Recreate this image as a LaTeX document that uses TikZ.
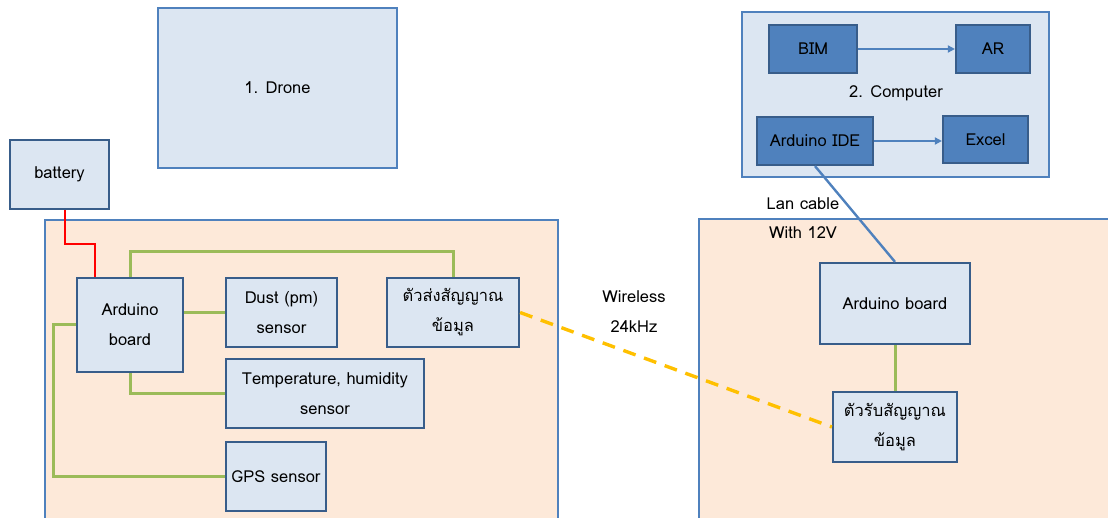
\documentclass[tikz,border=0pt]{standalone}
\usepackage{fontspec}
\setmainfont{Loma}[Script=Thai]
\usetikzlibrary{arrows.meta}
\definecolor{lbfill}{HTML}{DCE6F2}
\definecolor{navy}{HTML}{385D8A}
\definecolor{midblue}{HTML}{4F81BD}
\definecolor{peach}{HTML}{FDE9D9}
\definecolor{grn}{HTML}{9BBB59}
\definecolor{ylw}{HTML}{FFC000}
\tikzset{
  txt/.style={font=\fontsize{16.5}{30}\selectfont, align=center, inner sep=0pt},
  lbox/.style={txt, draw=navy, line width=2.2pt, fill=lbfill, minimum width=#1},
  pane/.style={draw=midblue, line width=1.3pt, fill=lbfill, inner sep=0pt},
  bgpane/.style={draw=midblue, line width=1.3pt, fill=peach, inner sep=0pt},
  dbox/.style={txt, draw=navy, line width=2.2pt, fill=midblue, minimum width=#1},
  gline/.style={draw=grn, line width=3pt},
  rline/.style={draw=red, line width=2.8pt},
  yline/.style={draw=ylw, line width=3.4pt, dash pattern=on 13pt off 9pt},
  bline/.style={draw=midblue, line width=2.4pt},
  barrow/.style={draw=midblue, line width=2pt, -{Triangle[length=7pt,width=7pt]}},
}
\begin{document}
\begin{tikzpicture}[x=1pt,y=-1pt]
\useasboundingbox (0,0) rectangle (1108,518);
% backgrounds
\node[bgpane, minimum width=513pt, minimum height=310pt] (leftbg) at (301.5,375) {};
\node[bgpane, minimum width=420pt, minimum height=310pt] (rightbg) at (909,374) {};
\node[pane, minimum width=239pt, minimum height=160pt, txt] (drone) at (277.5,88) {1. Drone};
\node[pane, minimum width=307pt, minimum height=165pt] (computer) at (895.5,94.5) {};
\node[txt] (complabel) at (896,93) {2. Computer};
% left boxes
\node[lbox=99pt, minimum height=69pt] (battery) at (59.5,174.5) {battery};
\node[lbox=106pt, minimum height=94pt] (ard1) at (130,325) {Arduino\\board};
\node[lbox=111pt, minimum height=69pt] (dust) at (281.5,312.5) {Dust (pm)\\sensor};
\node[lbox=132pt, minimum height=69pt] (tx) at (453,312.5) {ตัวส่งสัญญาณ\\ข้อมูล};
\node[lbox=198pt, minimum height=69pt] (temp) at (325,393.5) {Temperature, humidity\\sensor};
\node[lbox=100pt, minimum height=69pt] (gps) at (276,476.5) {GPS sensor};
% computer boxes
\node[dbox=88pt, minimum height=48pt] (bim) at (813,49) {BIM};
\node[dbox=74pt, minimum height=48pt] (ar) at (993,49) {AR};
\node[dbox=116pt, minimum height=48pt] (ide) at (815,141) {Arduino IDE};
\node[dbox=85pt, minimum height=47pt] (excel) at (985.5,139.5) {Excel};
% right boxes
\node[lbox=150pt, minimum height=81pt] (ard2) at (895,303.5) {Arduino board};
\node[lbox=124pt, minimum height=70pt] (rx) at (895,427) {ตัวรับสัญญาณ\\ข้อมูล};
% labels
\node[txt] (wl1) at (634,297) {Wireless};
\node[txt] (wl2) at (634,327) {24kHz};
\node[txt] (lan1) at (803,204) {Lan cable};
\node[txt] (lan2) at (803,233) {With 12V};
% connectors
\draw[rline] ([xshift=5.5pt]battery.south) -- ++(0,34) -| ([xshift=19pt]ard1.north west);
\draw[gline] (ard1.north) -- ++(0,-25) -| (tx.north);
\draw[gline] (dust.west -| ard1.east) -- (dust.west);
\draw[gline] (ard1.south) |- (temp.west);
\draw[gline] (ard1.west) -- ++(-22,0) |- (gps.west);
\draw[yline] (tx.east) -- (rx.west);
\draw[bline] (ide.south) -- (ard2.north);
\draw[gline] (ard2.south) -- (rx.north);
\draw[barrow] (bim.east) -- (ar.west);
\draw[barrow] (ide.east) -- (ide.east -| excel.west);
\end{tikzpicture}
\end{document}
